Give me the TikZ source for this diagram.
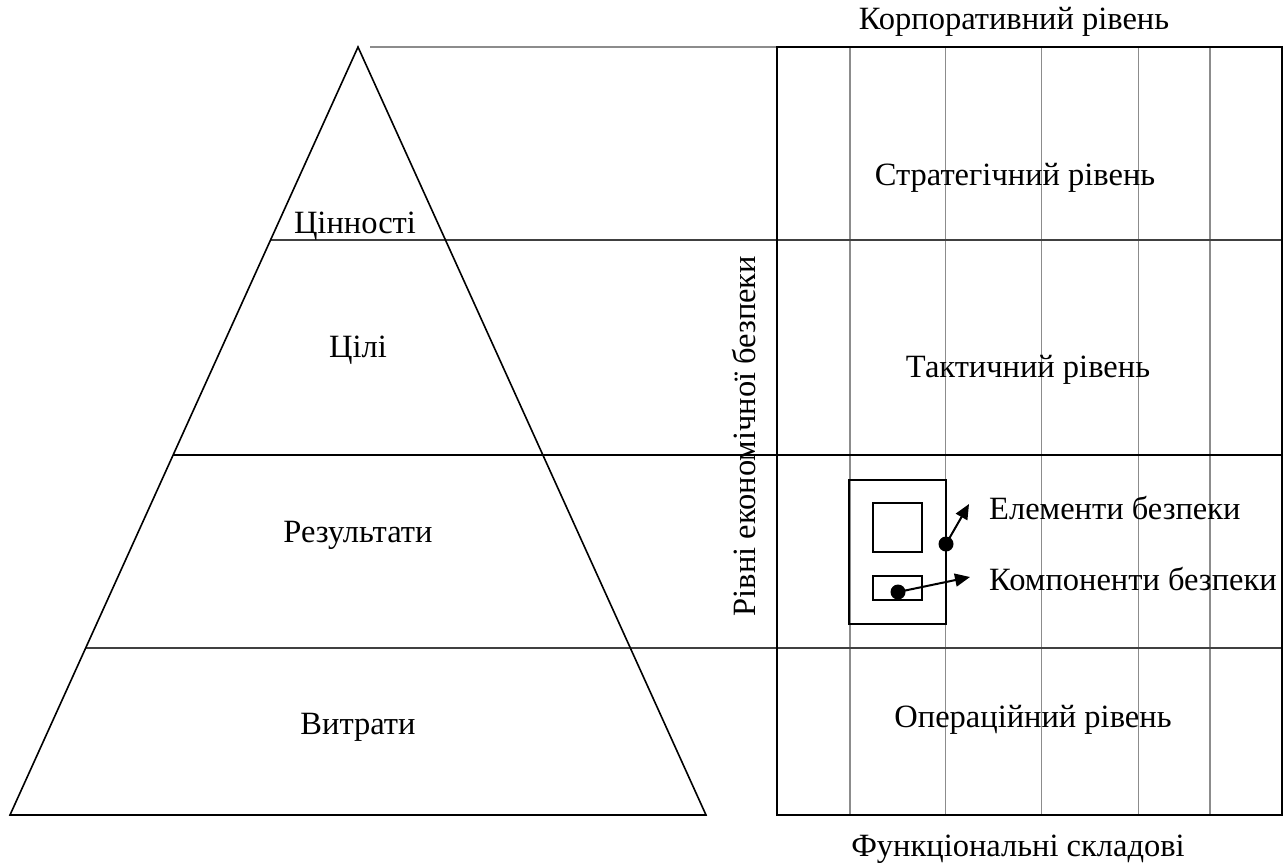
\documentclass[tikz,border=0pt]{standalone}
\usepackage{fontspec}
\setmainfont{Liberation Serif}
\usetikzlibrary{arrows.meta,calc}
\begin{document}
\begin{tikzpicture}[x=1pt,y=-1pt,
  lbl/.style={font=\fontsize{32.5}{38}\selectfont, inner sep=0pt, anchor=base},
  gridline/.style={draw=black!45, line width=1.4pt},
  levelline/.style={draw=black!75, line width=1.4pt},
  mainline/.style={draw=black, line width=2pt},
  frame/.style={draw=black, line width=2pt},
  pyramid/.style={draw=black, line width=1.6pt, line join=miter},
  cell/.style={draw=black, line width=1.5pt},
  pointer/.style={draw=black, line width=2pt, -{Triangle[length=15pt,width=13pt]}},
  dot/.style={fill=black}]
\useasboundingbox (0,0) rectangle (1288,863);

% pyramid corners
\coordinate (apex) at (358,47);
\coordinate (bl) at (10,815);
\coordinate (br) at (706,815);

% level table corners
\coordinate (tl) at (777,47);
\coordinate (tr) at (1282,47);
\coordinate (bbl) at (777,815);
\coordinate (bbr) at (1282,815);

% functional columns
\foreach \cx in {850,945.5,1041.5,1138.5,1210}
  \draw[gridline] (\cx,47) -- (\cx,815);

% level boundaries
\coordinate (l1) at ($(apex)!0.2513!(bl)$);
\coordinate (l2) at ($(apex)!0.53125!(bl)$);
\coordinate (l3) at ($(apex)!0.78255!(bl)$);
\draw[gridline] (370,47) -- (tl);
\draw[levelline] (l1) -- (l1 -| tr);
\draw[mainline] (l2) -- (l2 -| tr);
\draw[levelline] (l3) -- (l3 -| tr);

% table frame and pyramid
\draw[frame] (tl) rectangle (bbr);
\draw[pyramid] (apex) -- (br) -- (bl) -- cycle;

% security element block
\draw[black, line width=2.8pt] (849,480) rectangle (946,624);
\draw[cell] (873,503) rectangle (922,552);
\draw[cell] (873,576) rectangle (922,600);
\coordinate (d1) at (946,544);
\coordinate (d2) at (898,592);
\coordinate (a1) at (969,504);
\coordinate (a2) at (970,577);
\fill[dot] (d1) circle (7.5pt);
\fill[dot] (d2) circle (7.5pt);
\draw[pointer] (d1) -- (a1);
\draw[pointer] (d2) -- (a2);

% labels
\node[lbl] (corp) at (1014,29) {Корпоративний рівень};
\node[lbl] (strat) at (1015,185) {Стратегічний рівень};
\node[lbl] (tact) at (1028,377) {Тактичний рівень};
\node[lbl] (oper) at (1033,727) {Операційний рівень};
\node[lbl] (func) at (1018,856) {Функціональні складові};
\node[lbl, anchor=base west] (elem) at (989,519) {Елементи безпеки};
\node[lbl, anchor=base west] (comp) at (989,590) {Компоненти безпеки};
\node[lbl, rotate=90] (axis) at (755,436) {Рівні економічної безпеки};

\node[lbl] (values) at (355,233) {Цінності};
\node[lbl] (goals) at (358,357) {Цілі};
\node[lbl] (results) at (358,542) {Результати};
\node[lbl] (costs) at (358,734) {Витрати};
\end{tikzpicture}
\end{document}
